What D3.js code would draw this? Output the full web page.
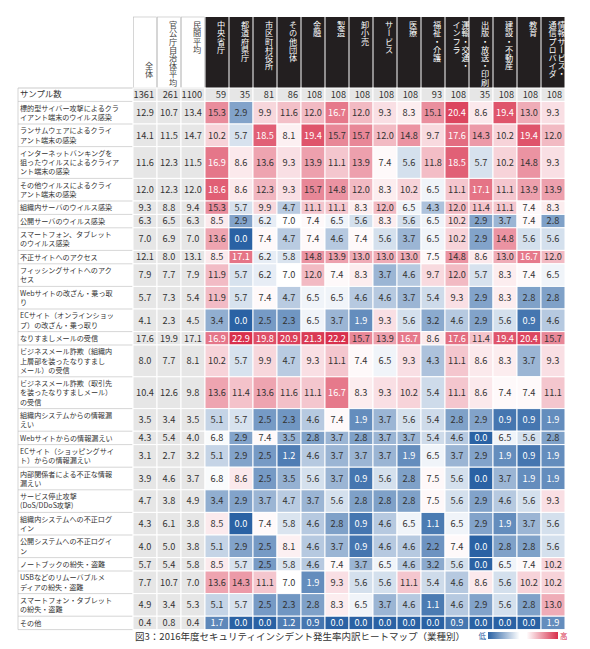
<!DOCTYPE html>
<html><head><meta charset="utf-8">
<script src="https://cdn.jsdelivr.net/npm/d3@7"></script>
<style>body{margin:0;background:#fff}svg{font-family:"Noto Sans CJK JP",sans-serif}</style>
</head><body><svg id="c" width="590" height="649"></svg>
<script>
const summaryCols=[["全体"],["官公庁自治体平均"],["民間平均"]];
const industries=[["中央省庁"],["都道府県庁"],["市区町村役所"],["その他団体"],["金融"],["製造"],["卸小売"],["サービス"],["医療"],["福祉・介護"],["運輸・交通・","インフラ"],["出版・放送・印刷"],["建設・不動産"],["教育"],["情報サービス・","通信プロバイダ"]];
const sampleSizes=[1361,261,1100,59,35,81,86,108,108,108,108,108,93,108,35,108,108,108];
const rowLabels=[
["標的型サイバー攻撃によるクラ","イアント端末のウイルス感染"],
["ランサムウェアによるクライ","アント端末の感染"],
["インターネットバンキングを","狙ったウイルスによるクライア","ント端末の感染"],
["その他ウイルスによるクライ","アント端末の感染"],
["組織内サーバのウイルス感染"],
["公開サーバのウイルス感染"],
["スマートフォン、タブレット","のウイルス感染"],
["不正サイトへのアクセス"],
["フィッシングサイトへのアク","セス"],
["Webサイトの改ざん・乗っ取","り"],
["ECサイト（オンラインショッ","プ）の改ざん・乗っ取り"],
["なりすましメールの受信"],
["ビジネスメール詐欺（組織内","上層部を装ったなりすまし","メール）の受信"],
["ビジネスメール詐欺（取引先","を装ったなりすましメール）","の受信"],
["組織内システムからの情報漏","えい"],
["Webサイトからの情報漏えい"],
["ECサイト（ショッピングサイ","ト）からの情報漏えい"],
["内部関係者による不正な情報","漏えい"],
["サービス停止攻撃","(DoS/DDoS攻撃)"],
["組織内システムへの不正ログ","イン"],
["公開システムへの不正ログイ","ン"],
["ノートブックの紛失・盗難"],
["USBなどのリムーバブルメ","ディアの紛失・盗難"],
["スマートフォン・タブレット","の紛失・盗難"],
["その他"]];
const values=[
[12.9,10.7,13.4,15.3,2.9,9.9,11.6,12.0,16.7,12.0,9.3,8.3,15.1,20.4,8.6,19.4,13.0,9.3],
[14.1,11.5,14.7,10.2,5.7,18.5,8.1,19.4,15.7,15.7,12.0,14.8,9.7,17.6,14.3,10.2,19.4,12.0],
[11.6,12.3,11.5,16.9,8.6,13.6,9.3,13.9,11.1,13.9,7.4,5.6,11.8,18.5,5.7,10.2,14.8,9.3],
[12.0,12.3,12.0,18.6,8.6,12.3,9.3,15.7,14.8,12.0,8.3,10.2,6.5,11.1,17.1,11.1,13.9,13.9],
[9.3,8.8,9.4,15.3,5.7,9.9,4.7,11.1,11.1,8.3,12.0,6.5,4.3,12.0,11.4,11.1,7.4,8.3],
[6.3,6.5,6.3,8.5,2.9,6.2,7.0,7.4,6.5,5.6,8.3,5.6,6.5,10.2,2.9,3.7,7.4,2.8],
[7.0,6.9,7.0,13.6,0.0,7.4,4.7,7.4,4.6,7.4,5.6,3.7,6.5,10.2,2.9,14.8,5.6,5.6],
[12.1,8.0,13.1,8.5,17.1,6.2,5.8,14.8,13.9,13.0,13.0,13.0,7.5,14.8,8.6,13.0,16.7,12.0],
[7.9,7.7,7.9,11.9,5.7,6.2,7.0,12.0,7.4,8.3,3.7,4.6,9.7,12.0,5.7,8.3,7.4,6.5],
[5.7,7.3,5.4,11.9,5.7,7.4,4.7,6.5,6.5,4.6,4.6,3.7,5.4,9.3,2.9,8.3,2.8,2.8],
[4.1,2.3,4.5,3.4,0.0,2.5,2.3,6.5,3.7,1.9,9.3,5.6,3.2,4.6,2.9,5.6,0.9,4.6],
[17.6,19.9,17.1,16.9,22.9,19.8,20.9,21.3,22.2,15.7,13.9,16.7,8.6,17.6,11.4,19.4,20.4,15.7],
[8.0,7.7,8.1,10.2,5.7,9.9,4.7,9.3,11.1,7.4,6.5,9.3,4.3,11.1,8.6,8.3,3.7,9.3],
[10.4,12.6,9.8,13.6,11.4,13.6,11.6,11.1,16.7,8.3,9.3,10.2,5.4,11.1,8.6,7.4,7.4,11.1],
[3.5,3.4,3.5,5.1,5.7,2.5,2.3,4.6,7.4,1.9,3.7,5.6,5.4,2.8,2.9,0.9,0.9,1.9],
[4.3,5.4,4.0,6.8,2.9,7.4,3.5,2.8,3.7,2.8,3.7,3.7,5.4,4.6,0.0,6.5,5.6,2.8],
[3.1,2.7,3.2,5.1,2.9,2.5,1.2,4.6,3.7,3.7,3.7,1.9,6.5,3.7,2.9,1.9,0.9,1.9],
[3.9,4.6,3.7,6.8,8.6,2.5,3.5,5.6,3.7,0.9,5.6,2.8,7.5,5.6,0.0,3.7,1.9,1.9],
[4.7,3.8,4.9,3.4,2.9,3.7,4.7,3.7,5.6,2.8,2.8,2.8,7.5,5.6,2.9,4.6,5.6,9.3],
[4.3,6.1,3.8,8.5,0.0,7.4,5.8,4.6,2.8,0.9,4.6,6.5,1.1,6.5,2.9,1.9,3.7,5.6],
[4.0,5.0,3.8,5.1,2.9,2.5,8.1,4.6,3.7,0.9,4.6,4.6,2.2,7.4,0.0,2.8,2.8,5.6],
[5.7,5.4,5.8,8.5,5.7,2.5,5.8,4.6,7.4,3.7,6.5,4.6,3.2,5.6,0.0,6.5,7.4,10.2],
[7.7,10.7,7.0,13.6,14.3,11.1,7.0,1.9,9.3,5.6,5.6,11.1,5.4,4.6,8.6,5.6,10.2,10.2],
[4.9,3.4,5.3,5.1,5.7,2.5,2.3,2.8,8.3,6.5,3.7,4.6,1.1,4.6,2.9,5.6,2.8,13.0],
[0.4,0.8,0.4,1.7,0.0,0.0,1.2,0.9,0.0,0.0,0.0,0.0,0.0,0.9,0.0,0.0,0.0,1.9]];
const caption="図3：2016年度セキュリティインシデント発生率内訳ヒートマップ（業種別）";

const svg=d3.select("#c");
const cols=summaryCols.concat(industries);
const x=d3.scaleBand().domain(d3.range(cols.length)).range([133,565]);
const color=d3.scaleLinear().domain([0,7,22]).range(["#2a62a4","#ffffff","#d8304c"]).clamp(true);
const lh=9.2,pad=4.2,tableTop=88,headTop=17;
const heights=[pad+lh].concat(rowLabels.map(l=>pad+l.length*lh));
const ys=[tableTop];heights.forEach(h=>ys.push(ys[ys.length-1]+h));

cols.forEach((c,i)=>{
  const dark=i>=3;
  svg.append("rect").attr("x",x(i)+0.5).attr("y",headTop).attr("width",x.bandwidth()-1).attr("height",tableTop-headTop)
    .attr("fill",dark?"#231f20":"#fff").attr("stroke",dark?"none":"#bbb").attr("stroke-width",0.6);
  const n=c.length;
  c.forEach((line,k)=>{
    const cx=x(i)+x.bandwidth()/2+4+(n-1)*4.5-k*9;
    svg.append("text").attr("x",cx).attr("y",i===0?62:headTop+4)
      .attr("writing-mode","vertical-rl").attr("font-size",8.2)
      .attr("fill",dark?"#fff":"#444").text(line);
  });
});
svg.append("line").attr("x1",18).attr("x2",133).attr("y1",tableTop).attr("y2",tableTop).attr("stroke","#aaa").attr("stroke-width",0.6);
const allLabels=[["サンプル数"]].concat(rowLabels);
allLabels.forEach((l,r)=>{
  const y0=ys[r],h=heights[r];
  svg.append("line").attr("x1",18).attr("x2",133).attr("y1",y0+h).attr("y2",y0+h).attr("stroke","#bbb").attr("stroke-width",0.6);
  l.forEach((t,k)=>{
    const tx=svg.append("text").attr("x",20).attr("y",y0+h/2+(k-(l.length-1)/2)*lh+2.6)
      .attr("font-size",r===0?8.4:7.1).attr("fill","#333").text(t);
    if(tx.node().getComputedTextLength()>110) tx.attr("textLength",110).attr("lengthAdjust","spacingAndGlyphs");
  });
});
svg.append("line").attr("x1",18).attr("x2",18).attr("y1",tableTop).attr("y2",ys[ys.length-1]).attr("stroke","#bbb").attr("stroke-width",0.6);
const rowsData=[sampleSizes].concat(values);
rowsData.forEach((row,r)=>{
  const y0=ys[r],h=heights[r];
  row.forEach((v,i)=>{
    const gray=(r===0||i<3);
    svg.append("rect").attr("x",x(i)).attr("y",y0).attr("width",x.bandwidth()).attr("height",h)
      .attr("fill",gray?"#e6e6e6":color(v)).attr("stroke","#fff").attr("stroke-width",1);
    const white=!gray&&(v<=2.0||v>=16.5);
    svg.append("text").attr("x",r===0?x(i)+x.bandwidth()-3:x(i)+x.bandwidth()/2).attr("y",y0+h/2+3.3)
      .attr("text-anchor",r===0?"end":"middle").attr("font-size",9.2)
      .attr("fill",white?"#fff":"#333").text(r===0?v:v.toFixed(1));
  });
});
svg.append("text").attr("x",300).attr("y",640).attr("text-anchor","middle").attr("font-size",9.5).attr("fill","#333").text(caption);
const g=svg.append("defs").append("linearGradient").attr("id","lg");
[[0,"#2a62a4"],[0.45,"#ffffff"],[0.55,"#ffffff"],[1,"#d8304c"]].forEach(s=>g.append("stop").attr("offset",s[0]).attr("stop-color",s[1]));
svg.append("rect").attr("x",488).attr("y",632).attr("width",70).attr("height",7).attr("fill","url(#lg)");
svg.append("text").attr("x",486).attr("y",639).attr("text-anchor","end").attr("font-size",7.5).attr("fill","#2a62a4").text("低");
svg.append("text").attr("x",560).attr("y",639).attr("font-size",7.5).attr("fill","#d8304c").text("高");
</script></body></html>
